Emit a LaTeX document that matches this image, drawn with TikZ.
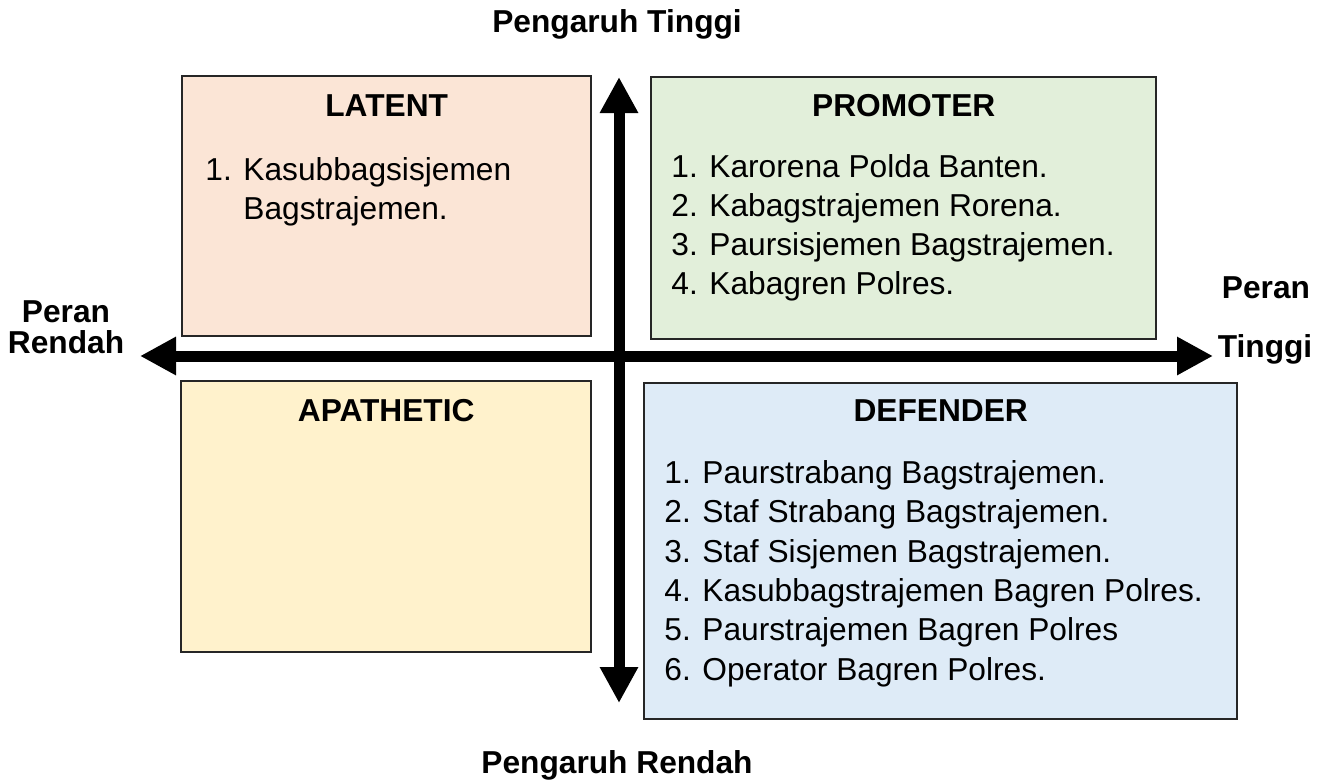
\documentclass[tikz,border=0pt]{standalone}
\usepackage{fontspec}
\setmainfont{Liberation Sans}
\usetikzlibrary{arrows.meta,positioning}
\definecolor{latentfill}{HTML}{FBE5D6}
\definecolor{promofill}{HTML}{E2EFDA}
\definecolor{apathfill}{HTML}{FFF2CC}
\definecolor{defendfill}{HTML}{DEEBF7}
\tikzset{
  quad/.style={
    rectangle,
    draw=black!85, line width=1.2pt,
    inner sep=0pt,
    anchor=north west
  },
  head/.style={font=\bfseries\fontsize{15.85pt}{19pt}\selectfont, inner sep=0pt, anchor=base},
  item/.style={font=\fontsize{15.85pt}{19pt}\selectfont, inner sep=0pt, anchor=base west},
  axis/.style={line width=5.5pt,
    {Triangle[width=18pt,length=18pt]}-{Triangle[width=18pt,length=18pt]}},
}
\newcommand{\numbox}[1]{\makebox[19pt][l]{#1}}

\begin{document}
\begin{tikzpicture}[x=0.5pt, y=-0.5pt]
  \useasboundingbox (0,0) rectangle (1331,781);
  % the four quadrants
  \node[quad, fill=latentfill, minimum width=204.5pt, minimum height=130pt] (latent) at (181,75) {};
  \node[quad, fill=promofill, minimum width=252.5pt, minimum height=131pt] (promo) at (650,76) {};
  \node[quad, fill=apathfill, minimum width=205pt, minimum height=135.5pt] (apath) at (180,380) {};
  \node[quad, fill=defendfill, minimum width=296.5pt, minimum height=168pt] (defend) at (643,382) {};

  \node[head] (latenthd) at ([yshift=-20.5pt]latent.north) {LATENT};
  \node[head] (promohd) at ([yshift=-20pt]promo.north) {PROMOTER};
  \node[head] (apathhd) at ([yshift=-20.5pt]apath.north) {APATHETIC};
  \node[head] (defendhd) at ([yshift=-19.5pt]defend.north) {DEFENDER};

  % lists
  \node[item] (latent1) at (205,180) {\numbox{1.}Kasubbagsisjemen};
  \node[item] (latent2) at (243,219.3) {Bagstrajemen.};
  \foreach \txt [count=\i] in {Karorena Polda Banten., Kabagstrajemen Rorena.,
      Paursisjemen Bagstrajemen., Kabagren Polres.}
    \node[item] (promo\i) at (671,{177+39.3*(\i-1)}) {\numbox{\i.}\txt};
  \foreach \txt [count=\i] in {Paurstrabang Bagstrajemen., Staf Strabang Bagstrajemen.,
      Staf Sisjemen Bagstrajemen., Kasubbagstrajemen Bagren Polres.,
      Paurstrajemen Bagren Polres, Operator Bagren Polres.}
    \node[item] (defend\i) at (664,{483.5+39.3*(\i-1)}) {\numbox{\i.}\txt};

  % axes
  \coordinate (top) at (619,77);
  \coordinate (bottom) at (619,703);
  \coordinate (west) at (140,356);
  \coordinate (east) at (1213,356);
  \draw[axis] (bottom) -- (top);
  \draw[axis] (west) -- (east);

  \node[head] (hightinf) at (617,33) {Pengaruh Tinggi};
  \node[head] (lowinf) at (617,773) {Pengaruh Rendah};
  \node[head] (lowrole1) at (66,322) {Peran};
  \node[head] (lowrole2) at (66,353) {Rendah};
  \node[head] (highrole1) at (1266,298) {Peran};
  \node[head] (highrole2) at (1265,357) {Tinggi};
\end{tikzpicture}
\end{document}
